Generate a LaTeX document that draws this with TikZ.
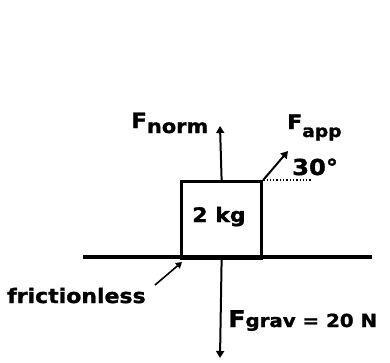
\documentclass[tikz,border=0pt]{standalone}
\usepackage{fontspec}
\newfontfamily\labfont[FakeStretch=1.1,FakeBold=1.5]{DejaVu Sans Bold}
\usetikzlibrary{arrows.meta}
\begin{document}
\begin{tikzpicture}[x=1pt,y=-1pt,
  lab/.style={inner sep=0pt, anchor=base west, font=\labfont},
  force/.style={line width=2pt, -{Triangle[width=8pt,length=7pt]}},
  thick line/.style={line width=3.2pt}]
\useasboundingbox (0,0) rectangle (390,362);
% ground
\coordinate (gl) at (83,257);
\coordinate (gr) at (372,257);
\draw[thick line] (gl) -- (gr);
% block
\node[draw, thick line, minimum width=80pt, minimum height=77pt, inner sep=0pt, anchor=north west] (box) at (180,180) {};
\node[lab, anchor=base] (mass) at (219,222) {\fontsize{20}{20}\selectfont 2 kg};
% normal force
\coordinate (ntip) at (220,126);
\draw[force] (box.north) -- (ntip);
\node[lab] (fnorm) at (131,128) {\fontsize{21}{21}\selectfont F\raisebox{-5pt}{\fontsize{19}{19}\selectfont norm}};
% gravity
\coordinate (gtip) at (220,358);
\draw[force] (box.south) -- (gtip);
\node[lab] (fgrav) at (228,327) {\fontsize{23}{23}\selectfont F\fontsize{18}{18}\selectfont grav = 20 N};
% applied force
\coordinate (atip) at (288,151);
\draw[force] (box.north east) -- (atip);
\node[lab] (fapp) at (287,129) {\fontsize{20}{20}\selectfont F\raisebox{-8pt}{\fontsize{17}{17}\selectfont app}};
\coordinate (dend) at (311,180);
\draw[line width=1.3pt, dotted] (box.north east) -- (dend);
\node[lab] (angle) at (292,175) {\fontsize{22}{22}\selectfont 30°};
% frictionless
\node[lab] (fr) at (7,303) {\fontsize{20}{20}\selectfont frictionless};
\coordinate (ftail) at (155,285);
\coordinate (ftip) at (182,262);
\draw[line width=1.6pt, -{Triangle[width=7pt,length=6pt]}] (ftail) -- (ftip);
\end{tikzpicture}
\end{document}
